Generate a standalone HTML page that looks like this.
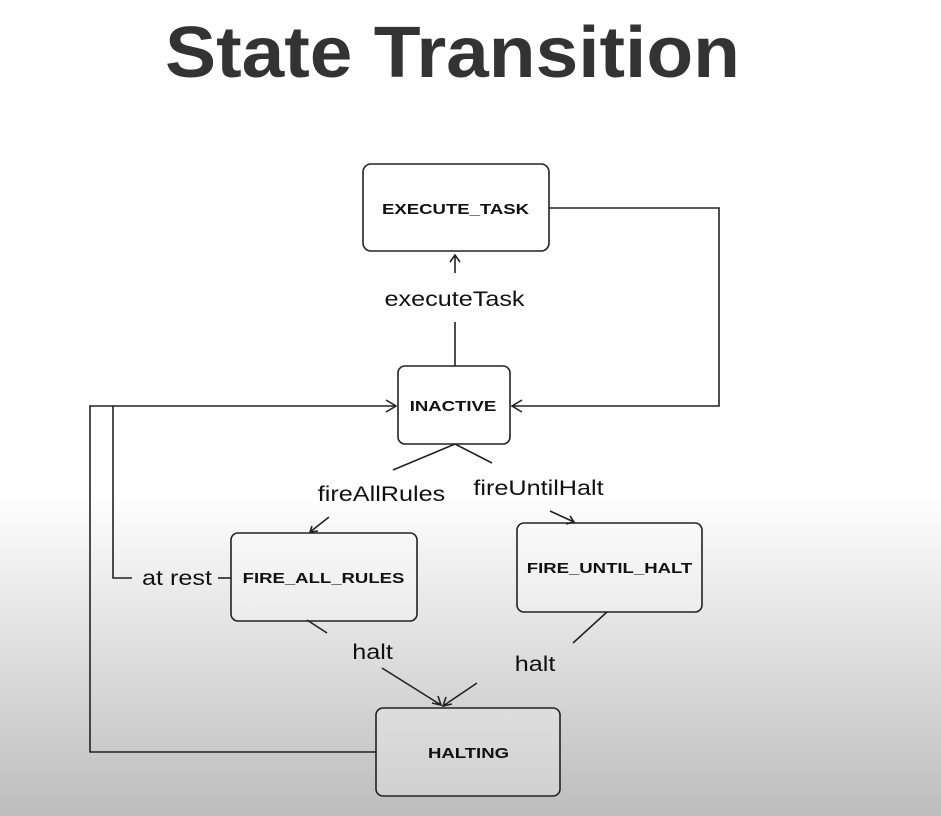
<!DOCTYPE html>
<html><head><meta charset="utf-8"><style>
html,body{margin:0;padding:0;}
body{width:941px;height:816px;overflow:hidden;background:linear-gradient(to bottom,#ffffff 0px,#ffffff 490px,#bdbdbd 816px);}
svg{display:block;}
</style></head><body>
<svg width="941" height="816" viewBox="0 0 941 816" xmlns="http://www.w3.org/2000/svg">
<text x="165" y="77" font-family="Liberation Sans, sans-serif" font-weight="bold" font-size="72" fill="#333" textLength="575" lengthAdjust="spacingAndGlyphs">State Transition</text>
<g fill="rgba(255,255,255,0.25)" stroke="#222" stroke-width="1.6">
<rect x="363" y="164" width="186" height="87" rx="8"/>
<rect x="398" y="366" width="112" height="78" rx="7"/>
<rect x="231" y="533" width="186" height="88" rx="7"/>
<rect x="517" y="523" width="185" height="89" rx="7"/>
<rect x="376" y="708" width="184" height="88" rx="7"/>
</g>
<g font-family="Liberation Sans, sans-serif" font-weight="bold" font-size="14.5" fill="#111" text-anchor="middle">
<text transform="translate(455.5,214) scale(1.28,1)">EXECUTE_TASK</text>
<text transform="translate(453,411) scale(1.28,1)">INACTIVE</text>
<text transform="translate(323.5,583) scale(1.28,1)">FIRE_ALL_RULES</text>
<text transform="translate(609.5,573) scale(1.28,1)">FIRE_UNTIL_HALT</text>
<text transform="translate(468.5,758) scale(1.28,1)">HALTING</text>
</g>
<g font-family="Liberation Sans, sans-serif" font-size="21" fill="#111" text-anchor="middle">
<text transform="translate(454.5,306) scale(1.2,1)">executeTask</text>
<text transform="translate(381.5,501) scale(1.2,1)">fireAllRules</text>
<text transform="translate(538.5,495) scale(1.2,1)">fireUntilHalt</text>
<text transform="translate(177,585) scale(1.2,1)">at rest</text>
<text transform="translate(372.5,659) scale(1.2,1)">halt</text>
<text transform="translate(535,671) scale(1.2,1)">halt</text>
</g>
<g fill="none" stroke="#222" stroke-width="1.6">
<path d="M549 208 H719 V406 H512"/>
<path d="M522 400 L512 406 L522 412"/>
<path d="M455 366 V322"/>
<path d="M455 273 V255 M450 262 L455 255 L460 262"/>
<path d="M376 752 H90 V406 H396"/>
<path d="M386 400 L396 406 L386 412"/>
<path d="M113 406 V578 H132"/>
<path d="M218 578 H231"/>
<path d="M393 470 L455 444 L492 463"/>
<path d="M329 517 L310 532 M312 526 L310 532 L318 531"/>
<path d="M550 511 L574 522 M566 524 L574 522 L570 516"/>
<path d="M307 620 L327 633"/>
<path d="M382 668 L441 705 M432 703 L441 705 L438 696"/>
<path d="M607 612 L573 643"/>
<path d="M477 683 L443 706 M446 697 L443 706 L452 704"/>
</g>
</svg>
</body></html>
